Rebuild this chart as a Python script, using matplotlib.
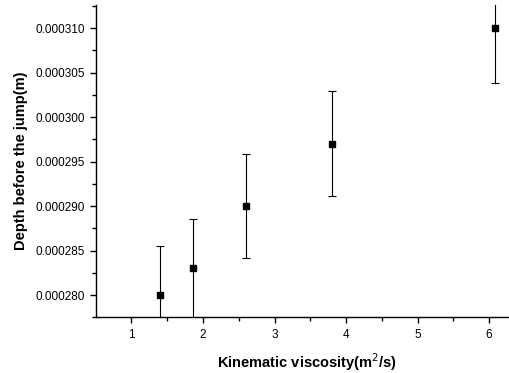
import numpy as np
import matplotlib.pyplot as plt
from matplotlib.ticker import MultipleLocator, FormatStrFormatter

plt.rcParams['font.family'] = ['Liberation Sans', 'DejaVu Sans']

# data
viscosity = [1.40, 1.86, 2.60, 3.80, 6.08]
depth = [0.000280, 0.000283, 0.000290, 0.000297, 0.000310]
err = [5.5e-6, 5.6e-6, 5.8e-6, 5.9e-6, 6.2e-6]

fig = plt.figure(figsize=(5.09, 3.73), dpi=100)
ax = fig.add_axes([0.1886, 0.149, 0.83, 0.838])

ax.errorbar(viscosity, depth, yerr=err, fmt='s', color='black', ms=4.5,
            ecolor='black', elinewidth=0.8, capsize=3, capthick=0.8)

ax.set_xlim(0.504, 6.41)
ax.set_ylim(0.0002775, 0.0003126)
ax.xaxis.set_major_locator(MultipleLocator(1))
ax.xaxis.set_minor_locator(MultipleLocator(0.5))
ax.yaxis.set_major_locator(MultipleLocator(0.000005))
ax.yaxis.set_minor_locator(MultipleLocator(0.0000025))
ax.yaxis.set_major_formatter(FormatStrFormatter('%.6f'))

ax.spines['top'].set_visible(False)
ax.spines['right'].set_visible(False)
for s in ('left', 'bottom'):
    ax.spines[s].set_linewidth(1.0)
ax.tick_params(which='major', length=4.5, width=1.0, labelsize=8.5, direction='out')
ax.tick_params(which='minor', length=2.7, width=1.0, direction='out')

ax.set_xlabel('Kinematic viscosity(m$^2$/s)', fontsize=10.5, fontweight='bold', labelpad=8)
ax.set_ylabel('Depth before the jump(m)', fontsize=10.5, fontweight='bold', labelpad=5)

fig.savefig('out.png', dpi=100)
